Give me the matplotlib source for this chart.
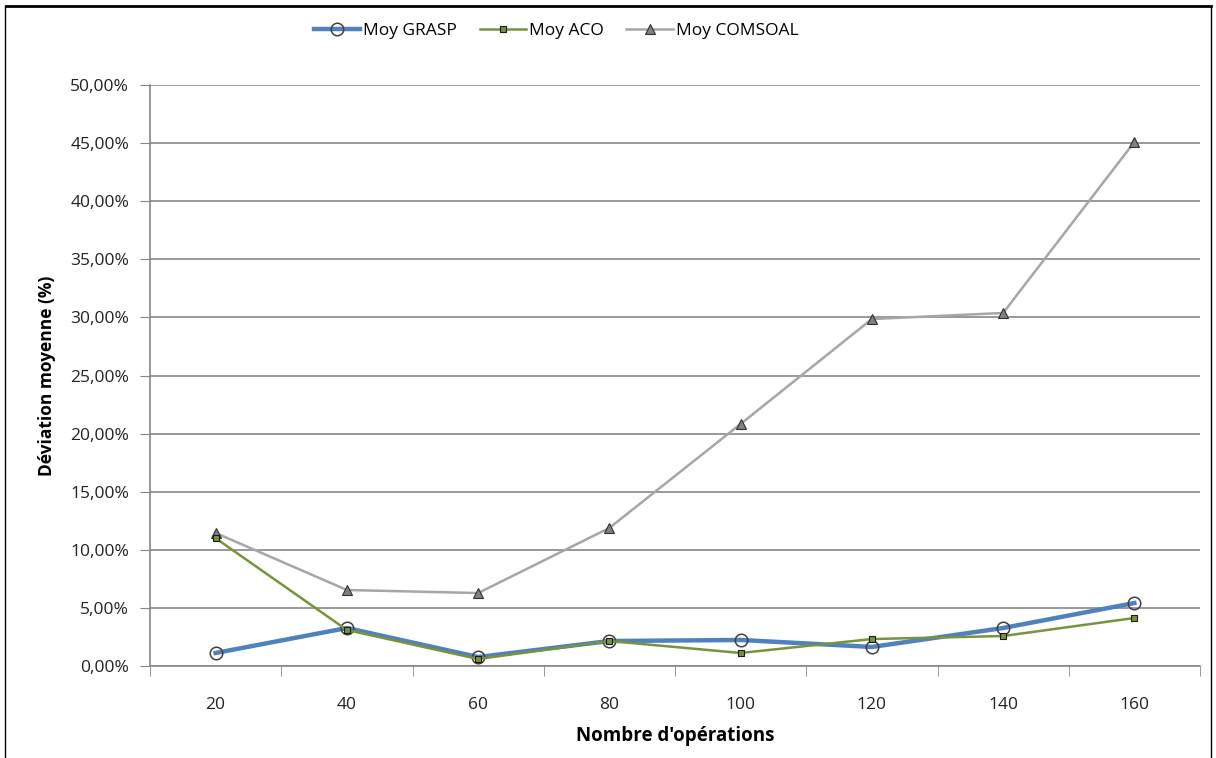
import numpy as np
import matplotlib
matplotlib.use("Agg")
import matplotlib.pyplot as plt
from matplotlib.lines import Line2D
from matplotlib.ticker import FuncFormatter

plt.rcParams['font.family'] = ['Open Sans', 'DejaVu Sans']

# donnees
operations = [20, 40, 60, 80, 100, 120, 140, 160]
moy_grasp = [1.12, 3.27, 0.77, 2.15, 2.24, 1.64, 3.27, 5.42]
moy_aco = [11.0, 3.1, 0.6, 2.15, 1.12, 2.32, 2.58, 4.13]
moy_comsoal = [11.45, 6.54, 6.28, 11.88, 20.83, 29.86, 30.38, 45.1]

fig = plt.figure(figsize=(12.16, 7.58), dpi=100)
ax = fig.add_axes([150 / 1216, 1 - 666 / 758, 1050 / 1216, 581 / 758])

x = np.arange(len(operations))
grid_col = '#868686'

ax.plot(x, moy_grasp, color='#4F81BD', lw=3.2, marker='o', ms=9,
        mfc='none', mec='#404040', mew=1.1, label='Moy GRASP', zorder=3)
ax.plot(x, moy_comsoal, color='#A6A6A6', lw=1.8, marker='^', ms=7.5,
        mfc='#808080', mec='#303030', mew=0.8, label='Moy COMSOAL', zorder=4)
ax.plot(x, moy_aco, color='#77933C', lw=1.8, marker='s', ms=5,
        mfc='#77933C', mec='#1a1a1a', mew=0.8, label='Moy ACO', zorder=5)

ax.set_xlim(-0.5, len(operations) - 0.5)
ax.set_ylim(0, 50)
ax.set_yticks(np.arange(0, 51, 5))
ax.yaxis.set_major_formatter(FuncFormatter(lambda v, p: ('%.2f%%' % v).replace('.', ',')))
ax.set_xticks(x)
ax.set_xticklabels([str(o) for o in operations])
ax.set_xticks(np.arange(-0.5, len(operations)), minor=True)
ax.tick_params(axis='x', which='major', length=0, pad=22, labelsize=12.5, colors='#222222')
ax.tick_params(axis='x', which='minor', length=7, color=grid_col, direction='out')
ax.tick_params(axis='y', length=7, color=grid_col, direction='out', labelsize=12.5,
               pad=8, labelcolor='#222222')

ax.grid(axis='y', color=grid_col, lw=1.2)
ax.set_axisbelow(True)
for s in ['top', 'right']:
    ax.spines[s].set_visible(False)
ax.spines['left'].set_color(grid_col)
ax.spines['bottom'].set_color(grid_col)
ax.spines['left'].set_linewidth(1.2)
ax.spines['bottom'].set_linewidth(1.2)

ax.set_xlabel("Nombre d'opérations", fontsize=13.5, fontweight='bold', labelpad=10)
ax.set_ylabel('Déviation moyenne (%)', fontsize=12.5, fontweight='bold', labelpad=10)

h, l = ax.get_legend_handles_labels()
order = [0, 2, 1]
ax.legend([h[i] for i in order], [l[i] for i in order], loc='center',
          bbox_to_anchor=(556 / 1216, 1 - 31 / 758), bbox_transform=fig.transFigure,
          ncol=3, frameon=False, fontsize=12.5, handlelength=2.7, columnspacing=1.3,
          handletextpad=0.15)

# cadre
fig.add_artist(Line2D([6 / 1216, 1211 / 1216], [1 - 6 / 758, 1 - 6 / 758],
                      transform=fig.transFigure, color='black', lw=2))
fig.add_artist(Line2D([5 / 1216, 5 / 1216], [0, 1 - 6 / 758],
                      transform=fig.transFigure, color='black', lw=1))
fig.add_artist(Line2D([1211 / 1216, 1211 / 1216], [0, 1 - 6 / 758],
                      transform=fig.transFigure, color='black', lw=1))

fig.savefig('out.png', dpi=100)
